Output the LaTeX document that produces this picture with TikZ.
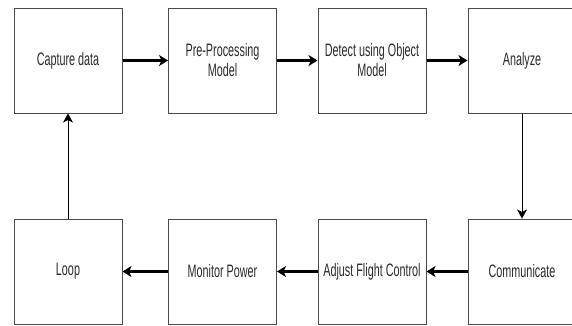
\documentclass[tikz,border=0pt]{standalone}
\usepackage{fontspec}
\setmainfont{Liberation Sans}[FakeStretch=0.6]
\usetikzlibrary{arrows.meta}
\definecolor{boxline}{HTML}{4A4A4A}
\definecolor{txt}{HTML}{2A2A2A}
\tikzset{
  stage/.style={draw=boxline, line width=1pt, minimum width=108pt, minimum height=105pt,
    inner sep=0pt, align=center, text=txt, font=\fontsize{18}{20}\selectfont},
  flow/.style={line width=2.2pt, black, -{Stealth[length=9pt,width=11pt,inset=2.5pt]}},
  link/.style={line width=1pt, black, -{Stealth[length=9pt,width=10pt,inset=2.5pt]}}
}
\begin{document}
\begin{tikzpicture}[x=1pt, y=-1pt]
  \useasboundingbox (0,0) rectangle (572,325);
  % top row
  \node[stage] (cap) at (68,60.5) {Capture data};
  \node[stage] (pre) at (222.5,60.5) {Pre-Processing\\Model};
  \node[stage] (det) at (372,60.5) {Detect using Object\\Model};
  \node[stage] (ana) at (522,60.5) {Analyze};
  % bottom row
  \node[stage] (loop) at (68,271.5) {Loop};
  \node[stage] (mon) at (222.5,271.5) {Monitor Power};
  \node[stage] (adj) at (372,271.5) {Adjust Flight Control};
  \node[stage] (com) at (522,271.5) {Communicate};
  % connectors
  \draw[flow] (cap) -- (pre);
  \draw[flow] (pre) -- (det);
  \draw[flow] (det) -- (ana);
  \draw[link] (ana) -- (com);
  \draw[flow] (com) -- (adj);
  \draw[flow] (adj) -- (mon);
  \draw[flow] (mon) -- (loop);
  \draw[link] (loop) -- (cap);
\end{tikzpicture}
\end{document}
